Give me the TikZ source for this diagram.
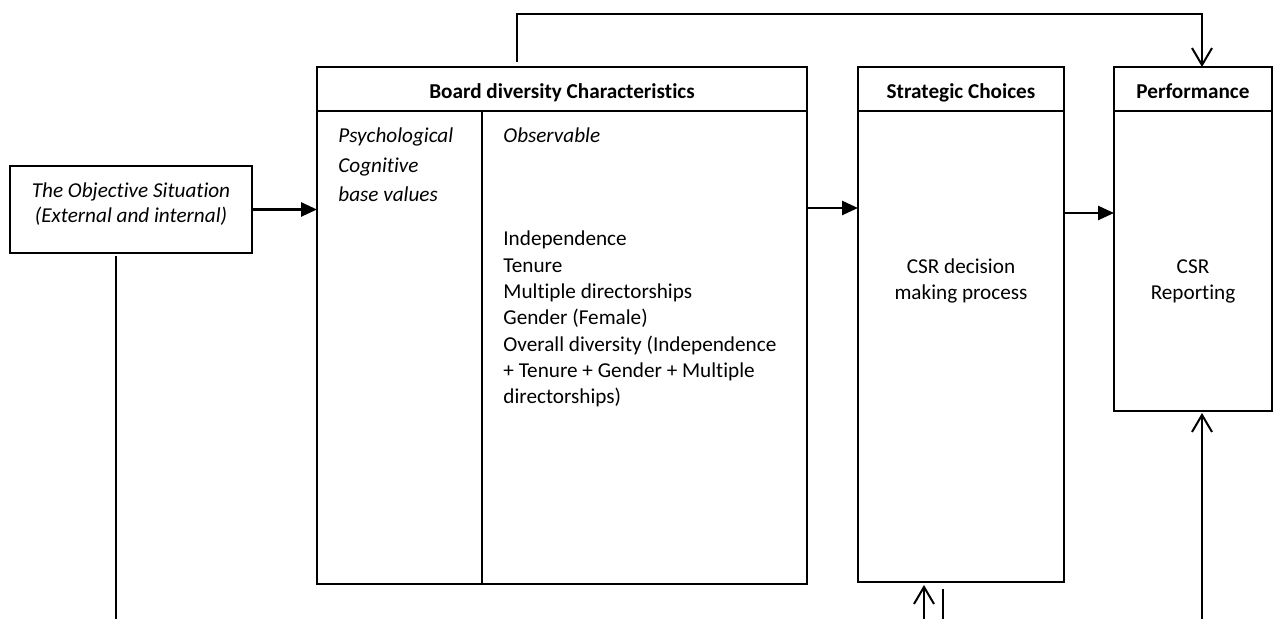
\documentclass[tikz,border=0pt]{standalone}
\usepackage{fontspec}
\setmainfont{Carlito}[RawFeature={-liga;-clig;-dlig}]
\usetikzlibrary{arrows.meta}
\newcommand\diagfont{\fontsize{10.6pt}{13pt}\selectfont}
\begin{document}
\begin{tikzpicture}[x=0.5pt,y=-0.5pt,
  box/.style={draw, line width=1pt, inner sep=0pt, outer sep=0pt, anchor=north west},
  rule/.style={line width=1pt},
  txt/.style={inner sep=0pt, font=\diagfont},
  head/.style={txt, font=\diagfont\bfseries, anchor=base},
  lefttxt/.style={txt, anchor=base west},
  midtxt/.style={txt, anchor=base},
  solidarrow/.style={line width=1.3pt, -{Triangle[length=8pt,width=7pt]}},
  openarrow/.style={line width=1pt, -{Straight Barb[length=8.5pt,width=10pt]}},
  plainline/.style={line width=1pt}]

% canvas
\fill[white] (0,0) rectangle (1274,619);
\useasboundingbox (0,0) rectangle (1274,619);

% boxes
\node[box, minimum width=121pt, minimum height=43.5pt] (obj) at (10,166) {};
\node[box, minimum width=245pt, minimum height=258.5pt] (board) at (317,67) {};
\node[box, minimum width=103pt, minimum height=257.5pt] (strat) at (858,67) {};
\node[box, minimum width=79pt, minimum height=172pt] (perf) at (1114,67) {};

% header rules and column divider
\draw[rule] ([yshift=-22pt]board.north west) -- ([yshift=-22pt]board.north east);
\draw[rule] ([yshift=-22pt]strat.north west) -- ([yshift=-22pt]strat.north east);
\draw[rule] ([yshift=-22pt]perf.north west) -- ([yshift=-22pt]perf.north east);
\coordinate (div) at (482,111);
\draw[rule] (div) -- (div |- board.south);

% texts
\node[midtxt] (objA) at (131,198) {\itshape The Objective Situation};
\node[midtxt] (objB) at (131,223) {\itshape (External and internal)};

\node[head] (boardH) at (562,99) {Board diversity Characteristics};
\node[head] (stratH) at (961,99) {Strategic Choices};
\node[head] (perfH) at (1193,99) {Performance};

\node[lefttxt] (psyA) at (338,143) {\itshape Psychological};
\node[lefttxt] (psyB) at (338,173) {\itshape Cognitive};
\node[lefttxt] (psyC) at (338,202) {\itshape base values};
\node[lefttxt] (obsH) at (503,143) {\itshape Observable};

\foreach \t [count=\i] in {{Independence},{Tenure},{Multiple directorships},
    {Gender (Female)},{Overall diversity (Independence},
    {+ Tenure + Gender + Multiple},{directorships)}}
  \node[lefttxt] (obs\i) at (503,{246+26.3*(\i-1)}) {\t};

\node[midtxt] (stratA) at (961,274) {CSR decision};
\node[midtxt] (stratB) at (961,300) {making process};
\node[midtxt] (perfA) at (1193,274) {CSR};
\node[midtxt] (perfB) at (1193,300) {Reporting};

% connectors
\draw[solidarrow] (obj.east) -- (obj.east -| board.west);
\coordinate (r1) at (0,208);
\draw[solidarrow] (board.east |- r1) -- (strat.west |- r1);
\coordinate (r2) at (0,213);
\draw[solidarrow] (strat.east |- r2) -- (perf.west |- r2);

\coordinate (t0) at (517,62);
\coordinate (t1) at (517,14);
\coordinate (px) at (1202,0);
\draw[openarrow] (t0) -- (t1) -| (px |- perf.north);

\coordinate (b0) at (116,619);
\draw[plainline] ([yshift=-1.5pt]obj.south -| b0) -- (b0);
\coordinate (b1) at (924,619);
\draw[openarrow] (b1) -- ([yshift=-1.5pt]strat.south -| b1);
\coordinate (b2) at (943,619);
\draw[plainline] (b2) -- ([yshift=-3.5pt]strat.south -| b2);
\coordinate (b3) at (1202,619);
\draw[openarrow] (b3) -- ([yshift=-1pt]perf.south -| b3);
\end{tikzpicture}
\end{document}
